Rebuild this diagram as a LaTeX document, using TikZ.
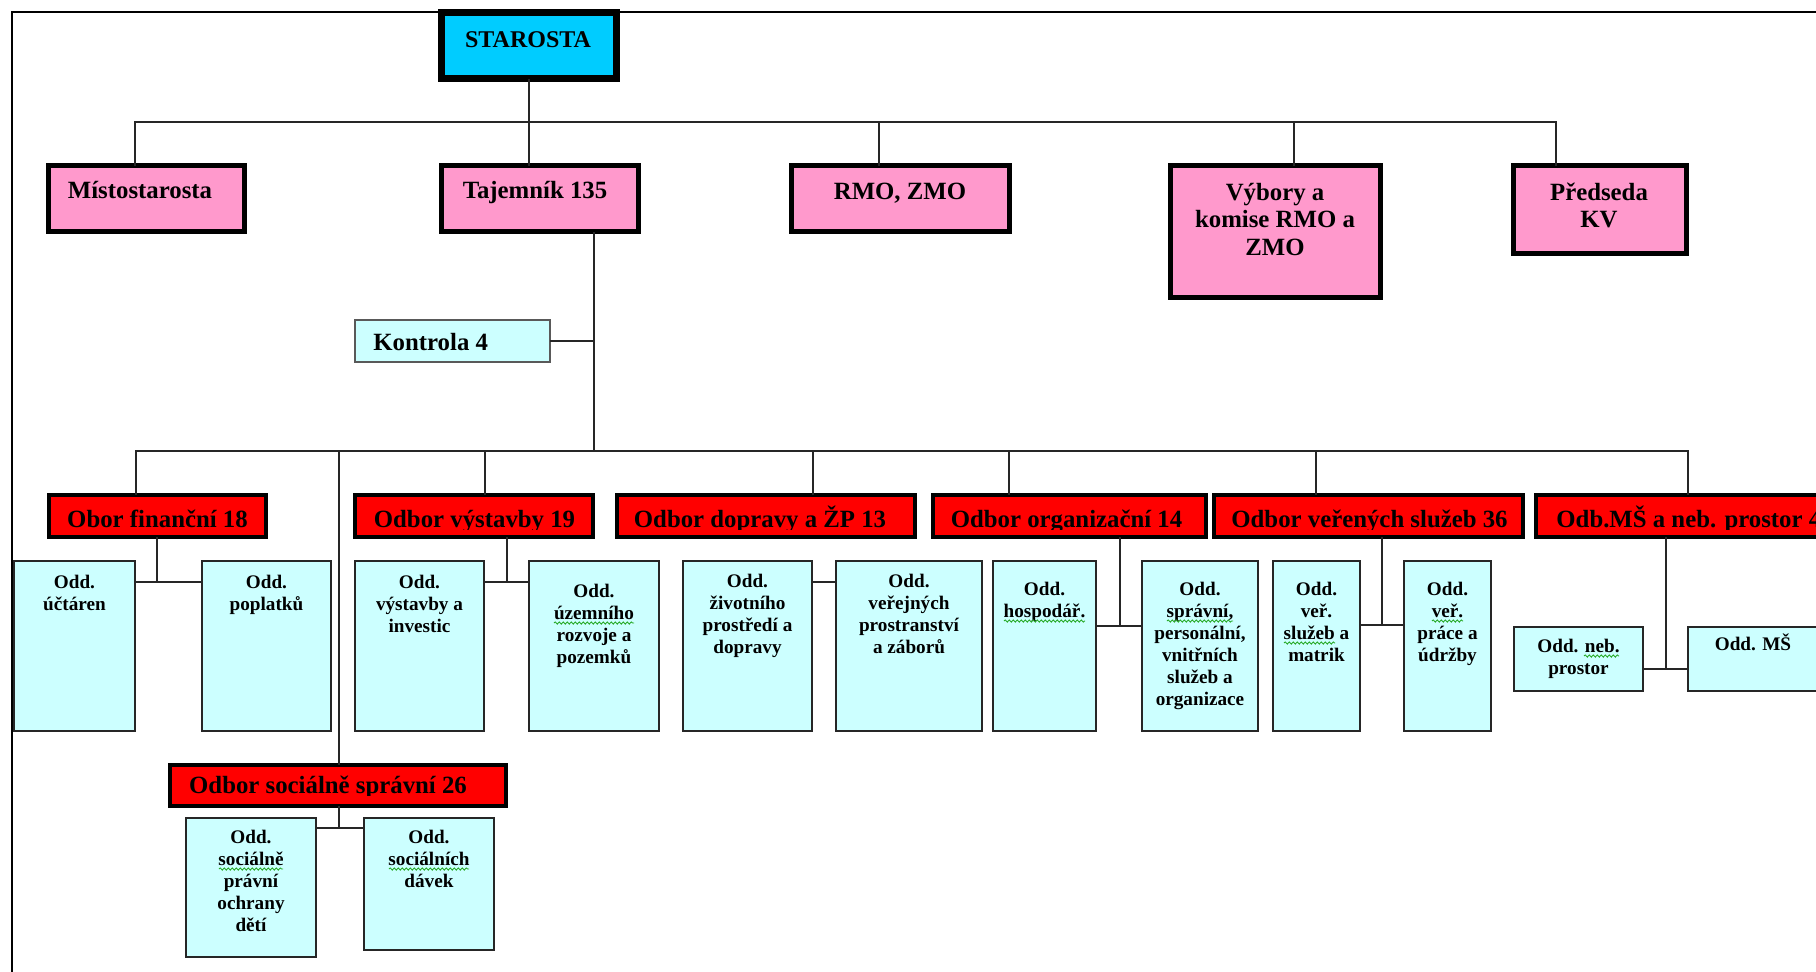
\documentclass[tikz,border=0pt]{standalone}
\usepackage{fontspec}
\setmainfont{Liberation Serif}
\usetikzlibrary{fit,decorations.pathmorphing}

\definecolor{starcyan}{RGB}{0,204,255}
\definecolor{leadpink}{RGB}{255,153,204}
\definecolor{deptred}{RGB}{255,0,0}
\definecolor{unitcyan}{RGB}{204,255,255}
\definecolor{spellgreen}{RGB}{40,170,40}

% stacked lines whose first baseline is the node's base
\newcommand{\rows}[1]{\begin{tabular}[t]{@{}c@{}}#1\end{tabular}}
% box drawn between two corners: style, name, x1, y1, x2, y2
\newcommand{\orgbox}[6]{\node[#1, fit={(#3,#4) (#5,#6)}] (#2) {};}
% text placed on its baseline: style, name, x, y, text
\newcommand{\orgtext}[5]{\node[#1, anchor=base] (#2) at (#3,#4) {#5};}
% green wavy proofing mark under a word: x from, x to, y
\newcommand{\spellwave}[3]{\draw[spellline] (#1,#3) -- (#2,#3);}

\tikzset{
  boxbase/.style={inner sep=0pt, outer sep=0pt},
  headbox/.style={boxbase, draw=black, fill=starcyan, line width=3.5pt},
  leadbox/.style={boxbase, draw=black, fill=leadpink, line width=2.5pt},
  deptbox/.style={boxbase, draw=black, fill=deptred, line width=1.75pt},
  unitbox/.style={boxbase, draw=black!85, fill=unitcyan, line width=1pt},
  ctrlbox/.style={boxbase, draw=black!65, fill=unitcyan, line width=1pt},
  bigtxt/.style={inner sep=0pt, font=\fontsize{12.4}{13.75}\selectfont\bfseries},
  headtxt/.style={inner sep=0pt, font=\fontsize{12}{13.5}\selectfont\bfseries},
  smalltxt/.style={inner sep=0pt, font=\fontsize{9.6}{11}\selectfont\bfseries},
  conn/.style={draw=black!85, line width=0.7pt},
  frameline/.style={draw=black, line width=1.4pt},
  spellline/.style={draw=spellgreen, line width=0.45pt,
    decorate, decoration={snake, segment length=2pt, amplitude=0.55pt}},
}

\begin{document}
\begin{tikzpicture}[x=0.5pt, y=-0.5pt]
\useasboundingbox (0,0) rectangle (1816,971);

% outer page frame
\draw[frameline] (12,12) rectangle (1900,1100);

% ---- top level ----
\orgbox{headbox}{star}{441.5}{12.5}{616.5}{78.5}
\orgtext{headtxt}{star-t}{528}{47}{STAROSTA}

\orgbox{leadbox}{mist}{48.5}{165.5}{244.5}{231.5}
\orgtext{bigtxt}{mist-t}{140}{198}{Místostarosta}
\orgbox{leadbox}{taj}{441.5}{165.5}{638.5}{231.5}
\orgtext{bigtxt}{taj-t}{535}{198}{Tajemník 135}
\orgbox{leadbox}{rmo}{791.5}{165.5}{1009.5}{231.5}
\orgtext{bigtxt}{rmo-t}{900}{199}{RMO, ZMO}
\orgbox{leadbox}{vyb}{1170.5}{165.5}{1380.5}{297.5}
\orgtext{bigtxt}{vyb-t}{1275}{200}{\rows{Výbory a\\komise RMO a\\ZMO}}
\orgbox{leadbox}{pred}{1513.5}{165.5}{1686.5}{253.5}
\orgtext{bigtxt}{pred-t}{1599}{200}{\rows{Předseda\\KV}}

\orgbox{ctrlbox}{kon}{355}{320}{550}{362}
\node[bigtxt, anchor=base west] (kon-t) at (373,350) {Kontrola 4};

% ---- departments ----
\orgbox{deptbox}{fin}{49}{495}{266}{537}
\orgbox{deptbox}{vyst}{355}{495}{593}{537}
\orgbox{deptbox}{dop}{617}{495}{915}{537}
\orgbox{deptbox}{org}{933}{495}{1206}{537}
\orgbox{deptbox}{ver}{1214}{495}{1523}{537}
\orgbox{deptbox}{ms}{1536}{495}{1900}{537}
\orgbox{deptbox}{soc}{170}{765}{506}{806}

% department titles are cut off just below their baseline
\begin{scope}
  \clip (0,490) rectangle (1900,529);
  \orgtext{bigtxt}{fin-t}{157.5}{527}{Obor finanční 18}
  \orgtext{bigtxt}{vyst-t}{474.5}{527}{Odbor výstavby 19}
  \orgtext{bigtxt}{dop-t}{760}{527}{Odbor dopravy a ŽP 13}
  \orgtext{bigtxt}{org-t}{1066.5}{527}{Odbor organizační 14}
  \orgtext{bigtxt}{ver-t}{1369.5}{527}{Odbor veřených služeb 36}
  \node[bigtxt, anchor=base west] (ms-t) at (1556,527) {Odb.MŠ a neb. prostor 4};
\end{scope}
\begin{scope}
  \clip (160,760) rectangle (520,795);
  \orgtext{bigtxt}{soc-t}{328}{793}{Odbor sociálně správní 26}
\end{scope}

% ---- sections ----
\orgbox{unitbox}{uct}{14}{561}{135}{731}
\orgtext{smalltxt}{uct-t}{74.5}{588}{\rows{Odd.\\účtáren}}
\orgbox{unitbox}{popl}{202}{561}{331}{731}
\orgtext{smalltxt}{popl-t}{266.5}{588}{\rows{Odd.\\poplatků}}
\orgbox{unitbox}{vai}{355}{561}{484}{731}
\orgtext{smalltxt}{vai-t}{419.5}{588}{\rows{Odd.\\výstavby a\\investic}}
\orgbox{unitbox}{uzr}{529}{561}{659}{731}
\orgtext{smalltxt}{uzr-t}{594}{597}{\rows{Odd.\\územního\\rozvoje a\\pozemků}}
\orgbox{unitbox}{zp}{683}{561}{812}{731}
\orgtext{smalltxt}{zp-t}{747.5}{587}{\rows{Odd.\\životního\\prostředí a\\dopravy}}
\orgbox{unitbox}{vp}{836}{561}{982}{731}
\orgtext{smalltxt}{vp-t}{909}{587}{\rows{Odd.\\veřejných\\prostranství\\a záborů}}
\orgbox{unitbox}{hos}{993}{561}{1096}{731}
\orgtext{smalltxt}{hos-t}{1044.5}{595}{\rows{Odd.\\hospodář.}}
\orgbox{unitbox}{spr}{1142}{561}{1258}{731}
\orgtext{smalltxt}{spr-t}{1200}{595}{\rows{Odd.\\správní,\\personální,\\vnitřních\\služeb a\\organizace}}
\orgbox{unitbox}{mat}{1273}{561}{1360}{731}
\orgtext{smalltxt}{mat-t}{1316.5}{595}{\rows{Odd.\\veř.\\služeb a\\matrik}}
\orgbox{unitbox}{udr}{1404}{561}{1491}{731}
\orgtext{smalltxt}{udr-t}{1447.5}{595}{\rows{Odd.\\veř.\\práce a\\údržby}}
\orgbox{unitbox}{neb}{1514}{627}{1643}{691}
\orgtext{smalltxt}{neb-t}{1578.5}{652}{\rows{Odd. neb.\\prostor}}
\orgbox{unitbox}{oms}{1688}{627}{1818}{691}
\orgtext{smalltxt}{oms-t}{1753}{650}{Odd. MŠ}
\orgbox{unitbox}{spo}{186}{818}{316}{957}
\orgtext{smalltxt}{spo-t}{251}{843}{\rows{Odd.\\sociálně\\právní\\ochrany\\dětí}}
\orgbox{unitbox}{dav}{364}{818}{494}{950}
\orgtext{smalltxt}{dav-t}{429}{843}{\rows{Odd.\\sociálních\\dávek}}

% proofing marks under unrecognised words
\spellwave{554}{634}{623}
\spellwave{1004}{1085}{621}
\spellwave{1167}{1233}{621}
\spellwave{1284}{1335}{643}
\spellwave{1432}{1463}{621}
\spellwave{1584}{1619}{656}
\spellwave{219}{283}{869}
\spellwave{389}{469}{869}

% ---- connectors: top level ----
\coordinate (j1a) at (135,122);
\coordinate (j1b) at (879,122);
\coordinate (j1c) at (1294,122);
\coordinate (j1d) at (1556,122);
\draw[conn] (j1a |- mist.north) -- (j1a) -- (j1d) -- (j1d |- pred.north);
\draw[conn] (j1b) -- (j1b |- rmo.north);
\draw[conn] (j1c) -- (j1c |- vyb.north);
\draw[conn] (star.south) -- (star.south |- taj.north);

% ---- connectors: secretary to departments ----
\coordinate (t2) at (594,451);
\draw[conn] (t2 |- taj.south) -- (t2);
\draw[conn] (kon.east) -- (kon.east -| t2);
\coordinate (j2a) at (136,451);
\coordinate (j2b) at (339,451);
\coordinate (j2c) at (485,451);
\coordinate (j2d) at (813,451);
\coordinate (j2e) at (1009,451);
\coordinate (j2f) at (1316,451);
\coordinate (j2g) at (1688,451);
\draw[conn] (j2a |- fin.north) -- (j2a) -- (j2g) -- (j2g |- ms.north);
\draw[conn] (j2b) -- (j2b |- soc.north);
\draw[conn] (j2c) -- (j2c |- vyst.north);
\draw[conn] (j2d) -- (j2d |- dop.north);
\draw[conn] (j2e) -- (j2e |- org.north);
\draw[conn] (j2f) -- (j2f |- ver.north);

% ---- connectors: departments to sections ----
\coordinate (k1) at (157,582);
\draw[conn] (k1 |- fin.south) -- (k1);
\draw[conn] (k1 -| uct.east) -- (k1 -| popl.west);
\coordinate (k2) at (507,582);
\draw[conn] (k2 |- vyst.south) -- (k2);
\draw[conn] (k2 -| vai.east) -- (k2 -| uzr.west);
\coordinate (k3) at (824,582);
\draw[conn] (k3 -| zp.east) -- (k3 -| vp.west);
\coordinate (k4) at (1120,626);
\draw[conn] (k4 |- org.south) -- (k4);
\draw[conn] (k4 -| hos.east) -- (k4 -| spr.west);
\coordinate (k5) at (1382,625);
\draw[conn] (k5 |- ver.south) -- (k5);
\draw[conn] (k5 -| mat.east) -- (k5 -| udr.west);
\coordinate (k6) at (1666,669);
\draw[conn] (k6 |- ms.south) -- (k6);
\draw[conn] (k6 -| neb.east) -- (k6 -| oms.west);
\coordinate (k7) at (339,828);
\draw[conn] (k7 |- soc.south) -- (k7);
\draw[conn] (k7 -| spo.east) -- (k7 -| dav.west);
\end{tikzpicture}
\end{document}
